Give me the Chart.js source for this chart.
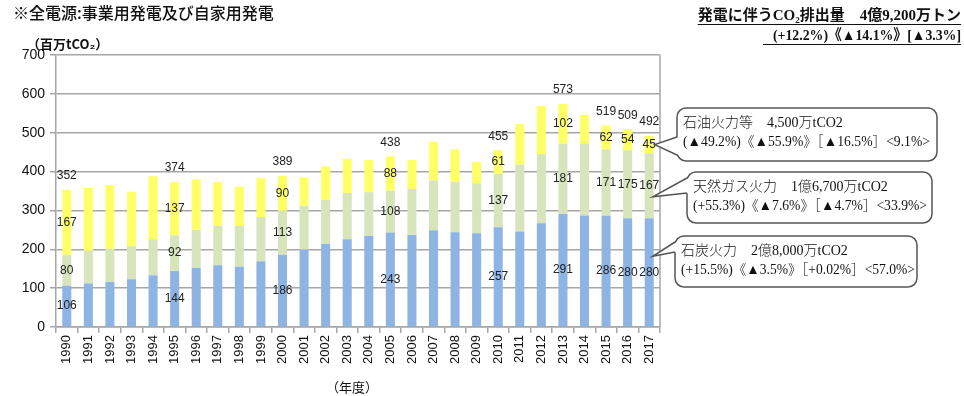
<!DOCTYPE html>
<html>
<head>
<meta charset="utf-8">
<script src="https://cdn.jsdelivr.net/npm/chart.js@4.4.0/dist/chart.umd.min.js"></script>
<style>
  body { margin: 0; background: #fff; }
  #chart { display: block; }
</style>
</head>
<body>
<canvas id="chart" width="964" height="396"></canvas>
<script>
// 年度
const years = ['1990','1991','1992','1993','1994','1995','1996','1997','1998','1999',
  '2000','2001','2002','2003','2004','2005','2006','2007','2008','2009',
  '2010','2011','2012','2013','2014','2015','2016','2017'];

// 百万tCO2
const coal = [106,112,116,123,133,144,152,159,155,169,186,199,214,226,234,243,237,249,244,241,257,246,267,291,287,286,280,280];
const gas  = [80,84,85,85,93,92,98,101,105,114,113,113,113,119,113,108,118,128,129,129,137,172,178,181,186,171,175,167];
const oil  = [167,162,164,140,162,137,130,113,101,100,90,73,86,88,83,88,75,100,84,55,61,104,124,102,73,62,54,45];

// 数値ラベルを付ける年度と合計値
const labeledYears  = ['1990','1995','2000','2005','2010','2013','2015','2016','2017'];
const labeledTotals = [352,374,389,438,455,573,519,509,492];

const yTicks = [0,100,200,300,400,500,600,700];

const headerLeft = '※全電源:事業用発電及び自家用発電';
const headerRight1 = '発電に伴うCO₂排出量　4億9,200万トン';
const headerRight2 = '(+12.2%)《▲14.1%》[▲3.3%]';
const yTitle = '（百万tCO₂）';
const xTitle = '（年度）';

const notes = [
  ['石油火力等　4,500万tCO2', '(▲49.2%)《▲55.9%》［▲16.5%］<9.1%>'],
  ['天然ガス火力　1億6,700万tCO2', '(+55.3%)《▲7.6%》［▲4.7%］<33.9%>'],
  ['石炭火力　2億8,000万tCO2', '(+15.5%)《▲3.5%》［+0.02%］<57.0%>'],
];

const GRID = '#a6a6a6';
const SERIF = "'Liberation Serif', 'Noto Sans CJK JP', serif";
const SANS_JP = "'Noto Sans CJK JP', 'Liberation Sans', sans-serif";

function roundBox(ctx, x, y, w, h, r) {
  ctx.beginPath();
  ctx.moveTo(x + r, y);
  ctx.lineTo(x + w - r, y);
  ctx.arcTo(x + w, y, x + w, y + r, r);
  ctx.lineTo(x + w, y + h - r);
  ctx.arcTo(x + w, y + h, x + w - r, y + h, r);
  ctx.lineTo(x + r, y + h);
  ctx.arcTo(x, y + h, x, y + h - r, r);
  ctx.lineTo(x, y + r);
  ctx.arcTo(x, y, x + r, y, r);
  ctx.closePath();
}

// 吹き出し
function callout(ctx, box, tip, a1, a2, lines, textX, w2) {
  ctx.save();
  roundBox(ctx, box.x, box.y, box.w, box.h, 9);
  ctx.fillStyle = '#fff';
  ctx.fill();
  ctx.strokeStyle = '#555';
  ctx.lineWidth = 1.5;
  ctx.stroke();
  // くちばし部分
  ctx.beginPath();
  ctx.moveTo(box.x + 2, a1);
  ctx.lineTo(tip.x, tip.y);
  ctx.lineTo(box.x + 2, a2);
  ctx.closePath();
  ctx.fillStyle = '#fff';
  ctx.fill();
  ctx.beginPath();
  ctx.moveTo(box.x, a1);
  ctx.lineTo(tip.x, tip.y);
  ctx.lineTo(box.x, a2);
  ctx.stroke();

  ctx.fillStyle = '#111';
  ctx.font = '300 14px ' + SERIF;
  ctx.textAlign = 'left';
  ctx.textBaseline = 'middle';
  ctx.fillText(lines[0], textX, box.y + 15);
  ctx.fillText(lines[1], textX, box.y + 34, w2);
  ctx.restore();
}

const overlay = {
  id: 'overlay',
  afterDatasetsDraw(chart) {
    const ctx = chart.ctx;
    const area = chart.chartArea;
    ctx.save();
    // 右側の枠線
    ctx.strokeStyle = GRID;
    ctx.lineWidth = 1.5;
    ctx.beginPath();
    ctx.moveTo(area.right, area.top);
    ctx.lineTo(area.right, area.bottom);
    ctx.stroke();

    ctx.fillStyle = '#222';
    ctx.font = '12px "Liberation Sans", Arial, sans-serif';
    ctx.textAlign = 'center';
    ctx.textBaseline = 'middle';
    labeledYears.forEach((yr, k) => {
      const i = years.indexOf(yr);
      [0, 1, 2].forEach(d => {
        const bar = chart.getDatasetMeta(d).data[i];
        const v = chart.data.datasets[d].data[i];
        ctx.fillText(String(v), bar.x, (bar.y + bar.base) / 2);
      });
      const top = chart.getDatasetMeta(2).data[i];
      ctx.fillText(String(labeledTotals[k]), top.x, top.y - 14);
    });
    ctx.restore();
  },
  afterDraw(chart) {
    const ctx = chart.ctx;
    const area = chart.chartArea;
    ctx.save();

    // 左上
    ctx.fillStyle = '#111';
    ctx.textBaseline = 'middle';
    ctx.textAlign = 'left';
    ctx.font = '500 16px ' + SANS_JP;
    ctx.fillText(headerLeft, 13, 13);

    ctx.font = 'bold 13px ' + SANS_JP;
    ctx.fillText(yTitle, 27, 44);

    // 右上
    ctx.textAlign = 'right';
    ctx.font = 'bold 15px ' + SERIF;
    const rx = 961;
    ctx.fillText(headerRight1, rx, 16);
    const w1 = ctx.measureText(headerRight1).width;
    ctx.fillText(headerRight2, rx, 36, 188);
    const w2 = Math.min(188, ctx.measureText(headerRight2).width);
    ctx.strokeStyle = '#111';
    ctx.lineWidth = 1;
    ctx.beginPath();
    ctx.moveTo(rx - w1, 24.5); ctx.lineTo(rx, 24.5);
    ctx.moveTo(rx - w2 - 10, 44.5); ctx.lineTo(rx, 44.5);
    ctx.stroke();

    // x軸タイトル
    ctx.textAlign = 'center';
    ctx.font = '13px ' + SANS_JP;
    ctx.fillText(xTitle, (area.left + area.right) / 2 - 6, 387);

    // 吹き出し
    const last = years.length - 1;
    const ys = chart.scales.y;
    const b = chart.getDatasetMeta(0).data[last];
    const tipX = b.x + b.width / 2 - 1;
    const c = coal[last], g = gas[last], o = oil[last];
    callout(ctx, {x: 677, y: 108, w: 260, h: 53},
      {x: tipX + 2, y: ys.getPixelForValue(c + g + o / 2)}, 137, 155, notes[0], 683, 247);
    callout(ctx, {x: 687, y: 172, w: 245, h: 51},
      {x: tipX, y: ys.getPixelForValue(c + g * 0.33)}, 178, 193, notes[1], 693, 234);
    callout(ctx, {x: 675, y: 236, w: 242, h: 51},
      {x: tipX, y: ys.getPixelForValue(c * 0.65)}, 242, 252, notes[2], 681, 234);
    ctx.restore();
  }
};

new Chart(document.getElementById('chart').getContext('2d'), {
  type: 'bar',
  data: {
    labels: years,
    datasets: [
      { label: '石炭火力', data: coal, backgroundColor: '#8db4e2' },
      { label: '天然ガス火力', data: gas, backgroundColor: '#d8e4bc' },
      { label: '石油火力等', data: oil, backgroundColor: '#ffff66' },
    ],
  },
  options: {
    responsive: false,
    animation: false,
    devicePixelRatio: 1,
    layout: { padding: { top: 55, right: 304, left: 0, bottom: 0 } },
    datasets: { bar: { categoryPercentage: 1, barPercentage: 0.42 } },
    plugins: { legend: { display: false }, tooltip: { enabled: false } },
    scales: {
      x: {
        stacked: true,
        afterFit: s => { s.height = 69; },
        grid: { display: true, drawOnChartArea: false, drawTicks: true, tickLength: 6, color: GRID, lineWidth: 1.5, offset: true },
        border: { display: true, color: GRID, width: 1.5 },
        ticks: {
          minRotation: 90, maxRotation: 90, autoSkip: false, padding: 2,
          color: '#111', font: { family: "'Liberation Sans', Arial, sans-serif", size: 13 },
        },
      },
      y: {
        stacked: true,
        min: 0, max: 700,
        afterFit: s => { s.width = 56; },
        afterBuildTicks: s => { s.ticks = yTicks.map(v => ({ value: v })); },
        grid: { color: GRID, lineWidth: 1.5, tickLength: 6 },
        border: { display: true, color: GRID, width: 1.5 },
        ticks: {
          padding: 5, color: '#111',
          font: { family: "'Liberation Sans', Arial, sans-serif", size: 14 },
        },
      },
    },
  },
  plugins: [overlay],
});
</script>
</body>
</html>
